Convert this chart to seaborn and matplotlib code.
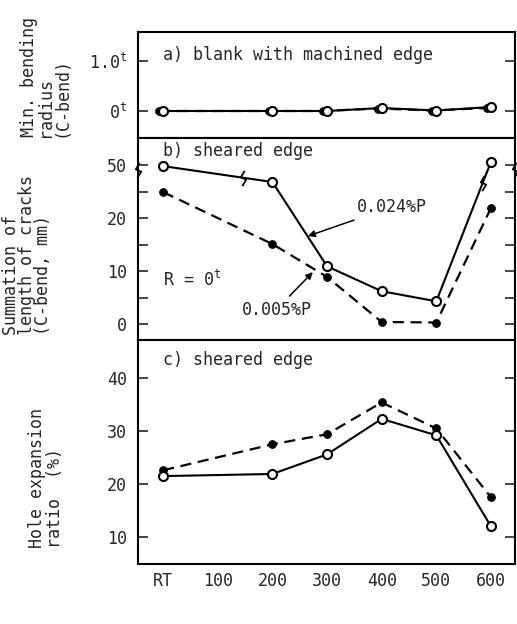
import numpy as np
import seaborn as sns
import matplotlib.pyplot as plt
from matplotlib.path import Path

# coiling temperature, RT drawn at 0
ct = [0, 200, 300, 400, 500, 600]
ct_ticks = [0, 100, 200, 300, 400, 500, 600]
ct_labels = ['RT', '100', '200', '300', '400', '500', '600']

# a) min. bending radius, machined edge (in units of t)
bend_024 = [0.0, 0.0, 0.0, 0.06, 0.01, 0.08]
bend_005 = [0.0, 0.0, 0.0, 0.05, 0.01, 0.06]
bend_ticks = [0, 1]
bend_labels = ['$0^{t}$', '$1.0^{t}$']

# b) summation of crack length (mm) -- axis broken above 20, position 30 reads 50
crack_024 = [29.8, 26.8, 10.9, 6.2, 4.3, 30.6]
crack_005 = [24.9, 15.1, 8.9, 0.4, 0.3, 21.9]
crack_ticks = [0, 10, 20, 30]
crack_labels = ['0', '10', '20', '50']
crack_minor = [5, 15, 25]
crack_break = 29.0
line_break_x = [146, 585]

# c) hole expansion ratio (%)
hole_024 = [21.5, 21.9, 25.6, 32.3, 29.2, 12.0]
hole_005 = [22.6, 27.5, 29.4, 35.4, 30.5, 17.5]
hole_ticks = [10, 20, 30, 40]

sns.set_style('white')
plt.rcParams['font.family'] = ['DejaVu Sans Mono', 'DejaVu Sans']
plt.rcParams['mathtext.fontset'] = 'custom'
plt.rcParams['mathtext.rm'] = 'DejaVu Sans Mono'
plt.rcParams['mathtext.it'] = 'DejaVu Sans Mono'
plt.rcParams['font.size'] = 12

fig = plt.figure(figsize=(5.17, 6.24), dpi=100)
W, H = 517, 624


def make_ax(top, bottom):
    return fig.add_axes([138 / W, 1 - bottom / H, (515 - 138) / W, (bottom - top) / H])


ax_a = make_ax(32, 138)
ax_b = make_ax(138, 340)
ax_c = make_ax(340, 564)

# small zigzag used for the axis / curve breaks
zig = Path([(-0.15, -1), (0.35, -0.15), (-0.35, 0.15), (0.15, 1)])


def draw_pair(ax, y_open, y_fill, shift=0):
    sns.lineplot(x=np.array(ct) - shift, y=y_fill, ax=ax, color='black', lw=1.6,
                 linestyle=(0, (5, 3)), marker='o', markersize=5.5,
                 markerfacecolor='black', markeredgecolor='black')
    sns.lineplot(x=ct, y=y_open, ax=ax, color='black', lw=1.5, marker='o',
                 markersize=6.5, markerfacecolor='white', markeredgecolor='black',
                 markeredgewidth=1.5, zorder=4)


for ax in (ax_a, ax_b, ax_c):
    ax.set_xlim(-46, 644)
    ax.set_xticks(ct_ticks)
    ax.tick_params(axis='x', direction='in', length=9, width=1.2, top=False,
                   labelbottom=False, pad=6)
    ax.tick_params(axis='y', which='both', direction='in', length=7, width=1.2,
                   left=True, right=True, pad=8, labelsize=12)
    for s in ax.spines.values():
        s.set_linewidth(1.5)
        s.set_color('black')
    ax.set_xlabel('')
    ax.set_ylabel('')

# a)
draw_pair(ax_a, bend_024, bend_005, shift=7)
ax_a.set_ylim(-0.54, 1.58)
ax_a.set_yticks(bend_ticks)
ax_a.set_yticklabels(bend_labels)
ax_a.text(0, 1.12, 'a) blank with machined edge', ha='left', va='center', fontsize=12)

# b)
draw_pair(ax_b, crack_024, crack_005)
ax_b.set_ylim(-3, 35.1)
ax_b.set_yticks(crack_ticks)
ax_b.set_yticklabels(crack_labels)
ax_b.set_yticks(crack_minor, minor=True)
for xs in (0, 1):
    ax_b.plot([xs], [crack_break], marker=zig, ms=11, mew=1.3, mfc='none', mec='black',
              transform=ax_b.get_yaxis_transform(), clip_on=False, zorder=5)
# break marks sit on the solid curve
ax_b.plot(line_break_x, np.interp(line_break_x, ct, crack_024), ls='none', marker=zig,
          ms=11, mew=1.3, mfc='none', mec='black', zorder=5)
ax_b.text(0, 32.6, 'b) sheared edge', ha='left', va='center', fontsize=12)
ax_b.text(0, 8.3, 'R = $0^{t}$', ha='left', va='center', fontsize=12)
ax_b.annotate('0.024%P', xy=(265, 16.6), xytext=(355, 22.1), ha='left', va='center',
              fontsize=12,
              arrowprops=dict(arrowstyle='-|>', lw=1.1, color='black', mutation_scale=10,
                              shrinkA=2, shrinkB=0))
ax_b.annotate('0.005%P', xy=(274, 9.8), xytext=(145, 2.6), ha='left', va='center',
              fontsize=12,
              arrowprops=dict(arrowstyle='-|>', lw=1.1, color='black', mutation_scale=10,
                              shrinkA=2, shrinkB=0, relpos=(0.6, 1)))

# c)
draw_pair(ax_c, hole_024, hole_005)
ax_c.set_ylim(4.9, 47.2)
ax_c.set_yticks(hole_ticks)
ax_c.set_xticklabels(ct_labels)
ax_c.tick_params(axis='x', labelbottom=True, labelsize=12)
ax_c.set_xlabel('CT (°C)', fontsize=12, labelpad=6)
ax_c.text(0, 43.4, 'c) sheared edge', ha='left', va='center', fontsize=12)

# y labels, multi-line rotated text starting at the bottom
fig.text(45 / W, 1 - 137 / H, 'Min. bending\nradius\n(C-bend)', rotation=90,
         ha='center', va='bottom', multialignment='left', fontsize=12, linespacing=0.88)
fig.text(27 / W, 1 - 335 / H, 'Summation of\nlength of cracks\n(C-bend, mm)', rotation=90,
         ha='center', va='bottom', multialignment='left', fontsize=12, linespacing=0.88)
fig.text(46 / W, 1 - 548 / H, 'Hole expansion\nratio  (%)', rotation=90,
         ha='center', va='bottom', multialignment='left', fontsize=12, linespacing=0.95)

fig.savefig('out.png', dpi=100)
